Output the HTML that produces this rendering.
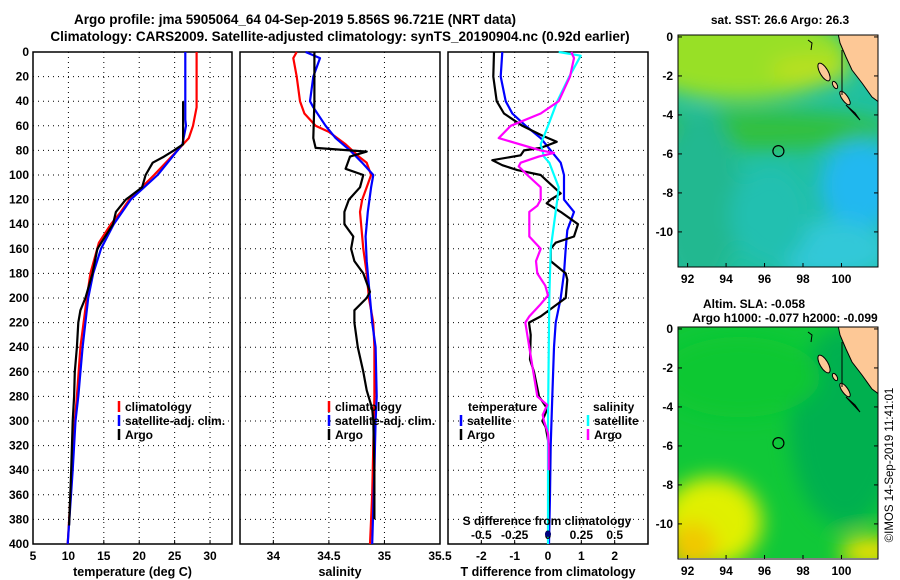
<!DOCTYPE html>
<html><head><meta charset="utf-8"><style>
html,body{margin:0;padding:0;background:#fff;}
svg{display:block;font-family:"Liberation Sans",sans-serif;font-weight:bold;}
</style></head><body>
<svg id="fig" width="900" height="580" viewBox="0 0 900 580">
<defs>
<filter id="blur" x="-50%" y="-50%" width="200%" height="200%"><feGaussianBlur stdDeviation="10"/></filter>
<clipPath id="clipTop"><rect x="678" y="35" width="200" height="232"/></clipPath>
<clipPath id="clipBot"><rect x="678" y="327" width="200" height="231"/></clipPath>
</defs>
<text x="295" y="24" font-size="13.5" text-anchor="middle">Argo profile: jma 5905064_64 04-Sep-2019 5.856S 96.721E (NRT data)</text>
<text x="340" y="41" font-size="13.5" text-anchor="middle">Climatology: CARS2009. Satellite-adjusted climatology: synTS_20190904.nc (0.92d earlier)</text>
<g id="panels"></g>
<g id="maps"></g>
<text transform="translate(893,465) rotate(-90)" font-size="11.5" font-weight="normal" text-anchor="middle">©IMOS 14-Sep-2019 11:41:01</text>
</svg>
<script>
// ---- data ----
const tempClimDepth=[0,45,60,70,80,100,120,130,140,155,180,200,240,280,300,340,400];
const tempClim=[28.1,28.1,27.6,27.0,25.4,22.1,18.6,17.4,16.0,14.3,13.1,12.6,11.7,11.2,10.9,10.5,9.9];
const tempSatDepth=[0,55,60,75,80,100,120,140,160,180,200,240,280,300,340,400];
const tempSat=[26.5,26.5,26.6,26.1,25.4,22.6,18.8,16.4,14.6,13.5,12.8,12.0,11.4,11.0,10.6,9.9];
const tempArgoDepth=[40,75,80,85,90,100,110,120,130,140,160,180,200,210,220,240,260,280,300,340,385];
const tempArgo=[26.2,26.2,24.9,23.5,21.9,20.9,20.4,18.1,16.7,16.3,14.1,13.4,12.4,11.7,11.4,11.2,10.9,10.8,10.6,10.4,10.1];

const salClimDepth=[0,5,20,40,50,60,65,75,85,90,100,110,120,130,140,160,180,200,220,240,280,320,360,400];
const salClim=[34.21,34.18,34.21,34.24,34.28,34.38,34.5,34.65,34.77,34.84,34.88,34.84,34.8,34.78,34.79,34.81,34.84,34.86,34.9,34.91,34.91,34.9,34.89,34.87];
const salSatDepth=[0,5,20,40,45,60,70,80,90,100,110,130,150,170,200,220,240,280,300,340,400];
const salSat=[34.29,34.42,34.36,34.33,34.36,34.47,34.56,34.69,34.8,34.9,34.88,34.85,34.83,34.84,34.87,34.89,34.92,34.93,34.92,34.91,34.89];
const salArgoDepth=[0,40,70,78,81,85,95,100,110,120,130,140,150,160,170,180,195,200,210,220,240,260,275,290,300,340,380];
const salArgo=[34.37,34.37,34.36,34.38,34.84,34.69,34.65,34.81,34.78,34.68,34.64,34.64,34.72,34.7,34.73,34.81,34.87,34.84,34.73,34.73,34.76,34.81,34.84,34.89,34.9,34.91,34.91];

const dTSatDepth=[0,20,40,50,60,70,80,90,100,120,130,145,160,180,200,220,240,280,320,360,400];
const dTSat=[-1.37,-1.42,-1.27,-1.07,-0.67,-0.22,0.08,0.38,0.48,0.48,0.78,0.58,0.53,0.48,0.38,0.23,0.18,0.13,0.08,0.06,0.03];
const dTArgoDepth=[0,20,40,50,60,68,73,78,80,84,88,92,96,100,105,115,120,123,130,140,150,155,160,170,180,185,200,205,215,220,230,250,260,280,290,300,305,320,360,385];
const dTArgo=[-1.62,-1.64,-1.54,-1.32,-0.77,-0.17,0.26,-0.22,-0.72,-0.82,-1.67,-1.37,-0.92,-0.22,-0.02,0.38,0.08,-0.04,0.38,0.9,0.78,0.23,0.08,0.08,0.53,0.58,0.53,0.28,-0.22,-0.57,-0.52,-0.54,-0.42,-0.27,-0.02,-0.17,-0.07,0.03,0.03,0.01];
const dSSatDepth=[0,3,20,40,60,75,85,90,100,110,120,140,160,200,300,400];
const dSSat=[0.08,0.245,0.16,0.07,0.0,-0.055,-0.03,0.01,0.045,0.08,0.07,0.045,0.02,0.01,0,0];
const dSArgoDepth=[0,5,20,40,50,60,70,80,82,85,90,93,100,110,120,125,130,150,160,170,180,190,198,205,215,220,240,260,280,287,295,300,310,320,340];
const dSArgo=[0.175,0.195,0.165,0.08,-0.055,-0.28,-0.37,-0.055,0.045,-0.07,-0.205,-0.22,-0.155,-0.055,-0.055,-0.08,-0.14,-0.14,-0.055,-0.09,-0.08,-0.02,0,-0.055,-0.14,-0.17,-0.14,-0.11,-0.08,-0.005,-0.04,-0.03,0,0.005,0.005];

const depthTicks=[0,20,40,60,80,100,120,140,160,180,200,220,240,260,280,300,320,340,360,380,400];
const tempTicks=[5,10,15,20,25,30];
const salTicks=[34,34.5,35,35.5];
const salTickLabels=["34","34.5","35","35.5"];
const dTTicks=[-2,-1,0,1,2];
const dSTicks=[-0.5,-0.25,0,0.25,0.5];
const dSTickLabels=["-0.5","-0.25","0","0.25","0.5"];
const lonTicks=[92,94,96,98,100];
const latTicks=[0,-2,-4,-6,-8,-10];
const argoLon=96.721, argoLat=-5.856;

// ---- helpers ----
const NS="http://www.w3.org/2000/svg";
function mk(tag,attrs,parent){const e=document.createElementNS(NS,tag);for(const k in attrs)e.setAttribute(k,attrs[k]);parent.appendChild(e);return e;}
const PT=52,PB=544;
const yD=d=>PT+(d/400)*(PB-PT);
const panelsG=document.getElementById('panels');

function makePanel(name,x0,x1,vmin,vmax,xticks,xlabels,showY,xtitle){
  const g=mk('g',{},panelsG);
  
  
  const sx=v=>x0+(v-vmin)/(vmax-vmin)*(x1-x0);
  const grid=mk('g',{stroke:'#000','stroke-width':1,'stroke-dasharray':'1 4'},g);
  
  
  depthTicks.forEach(d=>{if(d>0&&d<400)mk('line',{x1:x0,x2:x1,y1:yD(d),y2:yD(d)},grid);});
  xticks.forEach(v=>{const x=sx(v);if(x>x0+1&&x<x1-1)mk('line',{x1:x,x2:x,y1:PT,y2:PB},grid);});
  const fr=mk('rect',{x:x0,y:PT,width:x1-x0,height:PB-PT,fill:'none',stroke:'#000','stroke-width':1.5},g);
  
  
  xticks.forEach((v,i)=>{
    const x=sx(v);
    mk('line',{x1:x,x2:x,y1:PB,y2:PB-4,stroke:'#000'},g);
    const t=mk('text',{x:x,y:PB+16,'font-size':12,'text-anchor':'middle'},g);
    t.textContent=xlabels[i];
    
    
  });
  if(showY){depthTicks.forEach(d=>{
    const t=mk('text',{x:29,y:yD(d)+4,'font-size':12,'text-anchor':'end'},g);
    t.textContent=d;
    
    
  });}
  const tt=mk('text',{x:(x0+x1)/2,y:576,'font-size':12.5,'text-anchor':'middle'},g);
  tt.textContent=xtitle;
  
  
  return {g,sx};
}
function line(p,vals,depths,color,name){
  const pts=vals.map((v,i)=>p.sx(v).toFixed(1)+','+yD(depths[i]).toFixed(1)).join(' ');
  const l=mk('polyline',{points:pts,fill:'none',stroke:color,'stroke-width':2.2,'stroke-linejoin':'round'},p.g);
  
  
}
function legend(g,x,y,color,label,name){
  mk('line',{x1:x,x2:x,y1:y-10,y2:y+1,stroke:color,'stroke-width':2.5},g);
  if(label){const t=mk('text',{x:x+6,y:y,'font-size':12},g);t.textContent=label;
  
  }
}

// Temperature panel
const pT=makePanel('temperature-panel',33,232,5,33.1,tempTicks,tempTicks.map(String),true,'temperature (deg C)');
line(pT,tempClim,tempClimDepth,'#ff0000','temp-climatology-line');
line(pT,tempSat,tempSatDepth,'#0000ff','temp-satellite-adj-line');
line(pT,tempArgo,tempArgoDepth,'#000000','temp-argo-line');
legend(pT.g,119,411,'#f00','climatology','legend-climatology');
legend(pT.g,119,425,'#00f','satellite-adj. clim.','legend-satellite-adj');
legend(pT.g,119,439,'#000','Argo','legend-argo');

// Salinity panel
const pS=makePanel('salinity-panel',240,440,33.7,35.5,salTicks,salTickLabels,false,'salinity');
line(pS,salClim,salClimDepth,'#ff0000','sal-climatology-line');
line(pS,salSat,salSatDepth,'#0000ff','sal-satellite-adj-line');
line(pS,salArgo,salArgoDepth,'#000000','sal-argo-line');
legend(pS.g,329,411,'#f00','climatology','legend-climatology');
legend(pS.g,329,425,'#00f','satellite-adj. clim.','legend-satellite-adj');
legend(pS.g,329,439,'#000','Argo','legend-argo');

// Difference panel
const pD=makePanel('difference-panel',448,648,-3,3,dTTicks,dTTicks.map(String),false,'T difference from climatology');
const pDS={g:pD.g,sx:v=>pD.sx(v*4)};
line(pD,dTSat,dTSatDepth,'#0000ff','dT-satellite-line');
line(pD,dTArgo,dTArgoDepth,'#000000','dT-argo-line');
line(pDS,dSSat,dSSatDepth,'#00ffff','dS-satellite-line');
line(pDS,dSArgo,dSArgoDepth,'#ff00ff','dS-argo-line');
{const t=mk('text',{x:468,y:411,'font-size':12},pD.g);t.textContent='temperature';
}
legend(pD.g,461,425,'#00f','satellite','legend-t-satellite');
legend(pD.g,461,439,'#000','Argo','legend-t-argo');
{const t=mk('text',{x:593,y:411,'font-size':12},pD.g);t.textContent='salinity';
}
legend(pD.g,588,425,'#0ff','satellite','legend-s-satellite');
legend(pD.g,588,439,'#f0f','Argo','legend-s-argo');
{const t=mk('text',{x:547,y:525,'font-size':12,'text-anchor':'middle'},pD.g);t.textContent='S difference from climatology';
}
dSTicks.forEach((v,i)=>{const t=mk('text',{x:pDS.sx(v),y:539,'font-size':12,'text-anchor':'middle'},pD.g);t.textContent=dSTickLabels[i];
});
{const d=mk('circle',{cx:pD.sx(0),cy:534,r:3,fill:'#000080'},pD.g);
}

// ---- maps ----
const mapsG=document.getElementById('maps');
const MX0=678,MX1=878,LON0=91.5,LON1=101.9;
const mx=lon=>MX0+(lon-LON0)/(LON1-LON0)*(MX1-MX0);
function makeMap(name,y0,clip,base,blobs,title1,title2){
  const g=mk('g',{},mapsG);
  
  
  const my=lat=>y0+(0.1-lat)/11.9*232;
  const c=mk('g',{'clip-path':'url(#'+clip+')'},g);
  mk('rect',{x:MX0,y:y0,width:200,height:232,fill:base},c);
  const bg=mk('g',{filter:'url(#blur)'},c);
  blobs.forEach(b=>mk('ellipse',{cx:b[0],cy:y0+b[1],rx:b[2],ry:b[3],fill:b[4]},bg));
  const land=mk('polygon',{points:[[838,y0-2],[880,y0-2],[880,y0+68],[872,y0+62],[862,y0+48],[852,y0+35],[846,y0+22],[840,y0+8]].map(p=>p.join(',')).join(' '),fill:'#fdc896',stroke:'#000','stroke-width':1},c);
  
  
  mk('ellipse',{cx:824,cy:y0+37,rx:4,ry:10,transform:'rotate(-30 824 '+(y0+37)+')',fill:'#fdc896',stroke:'#000'},c);
  mk('ellipse',{cx:835,cy:y0+50,rx:2,ry:4,transform:'rotate(-30 835 '+(y0+50)+')',fill:'#fdc896',stroke:'#000'},c);
  mk('ellipse',{cx:845,cy:y0+63,rx:3,ry:8,transform:'rotate(-35 845 '+(y0+63)+')',fill:'#fdc896',stroke:'#000'},c);
  mk('path',{d:`M846 ${y0+70} L860 ${y0+85} L855 ${y0+78} Z M842 ${y0+15} L842 ${y0+60}`,fill:'none',stroke:'#000'},c);
  mk('polyline',{points:`808,${y0+5} 812,${y0+8} 811,${y0+15}`,fill:'none',stroke:'#000'},c);
  const circ=mk('circle',{cx:mx(argoLon),cy:my(argoLat),r:5.5,fill:'none',stroke:'#000','stroke-width':1.2},g);
  
  
  mk('rect',{x:MX0,y:y0,width:200,height:232,fill:'none',stroke:'#000'},g);
  lonTicks.forEach(l=>{mk('line',{x1:mx(l),x2:mx(l),y1:y0+232,y2:y0+228,stroke:'#000'},g);
    const t=mk('text',{x:mx(l),y:y0+248,'font-size':12,'text-anchor':'middle'},g);t.textContent=l;
    });
  latTicks.forEach(l=>{mk('line',{x1:MX0,x2:MX0+4,y1:my(l),y2:my(l),stroke:'#000'},g);
    mk('line',{x1:MX1,x2:MX1-4,y1:my(l),y2:my(l),stroke:'#000'},g);
    const t=mk('text',{x:673,y:my(l)+4,'font-size':12,'text-anchor':'end'},g);t.textContent=l;
    });
  if(title1){const t=mk('text',{x:title2?754:780,y:title2?y0-19:y0-11,'font-size':12,'text-anchor':'middle'},g);t.textContent=title1;
    }
  if(title2){const t=mk('text',{x:785,y:y0-5,'font-size':12,'text-anchor':'middle'},g);t.textContent=title2;
    }
}
makeMap('sst-map',35,'clipTop','#20c0a0',[
  [740,20,110,45,'#98e028'],[810,35,40,15,'#b8e020'],[760,95,130,20,'#30c040'],
  [700,165,40,90,'#20b890'],[860,150,40,45,'#20b8f0'],[830,215,60,30,'#30c8d8'],[770,180,40,50,'#20c0b0']
],'sat. SST: 26.6 Argo: 26.3',null);
makeMap('sla-map',327,'clipBot','#10c838',[
  [845,100,55,100,'#00b050'],[712,195,50,45,'#e0f000'],[692,220,25,25,'#f0c800'],
  [870,225,30,15,'#f0e000'],[740,50,80,40,'#10c830']
],'Altim. SLA: -0.058','Argo h1000: -0.077 h2000: -0.099');
</script>
</body></html>
